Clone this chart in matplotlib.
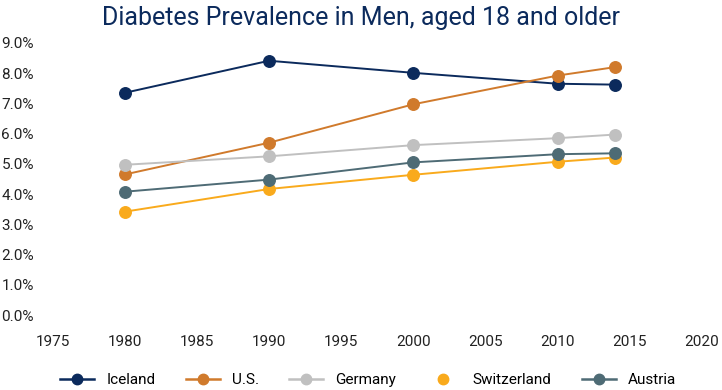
import matplotlib
matplotlib.use('Agg')
from matplotlib import pyplot as plt
from matplotlib.lines import Line2D
from matplotlib.ticker import FuncFormatter

years = [1980, 1990, 2000, 2010, 2014]
iceland = [7.35, 8.41, 8.01, 7.65, 7.62]
us = [4.65, 5.70, 6.97, 7.92, 8.20]
germany = [4.97, 5.25, 5.62, 5.85, 5.97]
switzerland = [3.42, 4.17, 4.64, 5.07, 5.21]
austria = [4.08, 4.48, 5.05, 5.32, 5.35]

names = ['Iceland', 'U.S.', 'Germany', 'Switzerland', 'Austria']
series = [iceland, us, germany, switzerland, austria]
colors = ['#0B2A5C', '#D07A2C', '#C0C0C0', '#F9AA1C', '#4E6B75']

plt.rcParams['font.family'] = ['Roboto', 'DejaVu Sans']

fig = plt.figure(figsize=(7.22, 3.9), dpi=100)
ax = fig.add_axes([0.073, 0.192, 0.899, 0.698])

handles = []
for name, vals, c in zip(names, series, colors):
    ax.plot(years, vals, color=c, lw=1.4, marker='o', ms=8.3, zorder=3)
    if name == 'Switzerland':
        h = Line2D([], [], color=c, marker='o', ms=7.5, lw=0)
    else:
        h = Line2D([], [], color=c, marker='o', ms=7.5, lw=1.8)
    handles.append(h)

ax.set_xlim(1975, 2020)
ax.set_ylim(0, 9)
ax.set_xticks(range(1975, 2021, 5))
ax.set_yticks(range(0, 10))
ax.yaxis.set_major_formatter(FuncFormatter(lambda v, p: f'{v:.1f}%'))
for s in ax.spines.values():
    s.set_visible(False)
ax.tick_params(length=0, labelsize=11, colors='#222222')
ax.tick_params(axis='y', pad=37)
for lab in ax.get_yticklabels():
    lab.set_horizontalalignment('left')
ax.tick_params(axis='x', pad=14)

fig.text(0.5, 0.955, 'Diabetes Prevalence in Men, aged 18 and older',
         ha='center', va='center', fontsize=18, color='#0B2A5C')

fig.legend(handles, names, loc='center', bbox_to_anchor=(0.51, 0.025),
           ncol=5, frameon=False, fontsize=11, handlelength=2.2,
           columnspacing=2.0)

fig.savefig('out.png', dpi=100)
